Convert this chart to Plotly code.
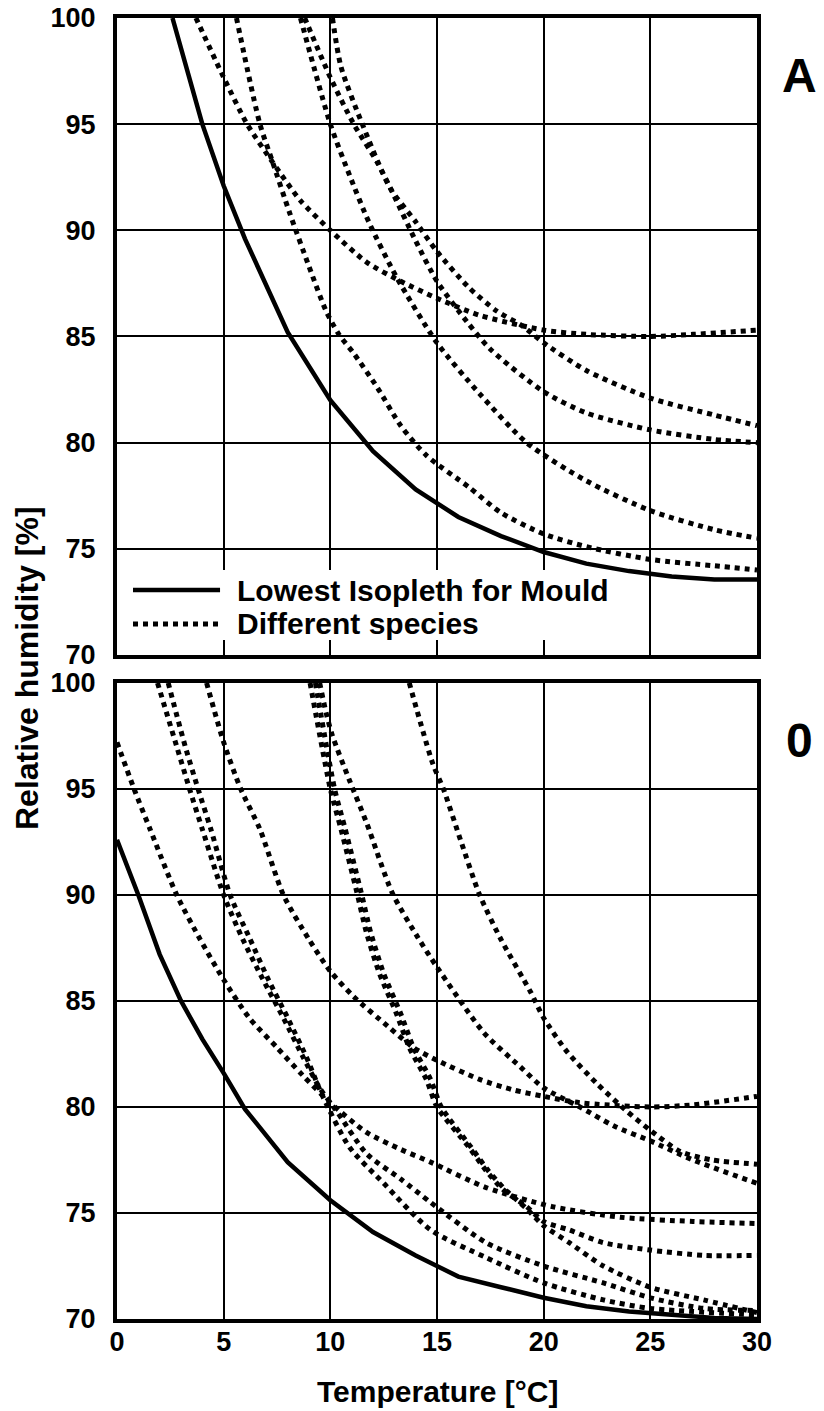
import plotly.graph_objects as go

# ---------------- Panel A (top) ----------------
temp_A_lowest = [2.6, 4, 5, 6, 8, 10, 12, 14, 16, 18, 20, 22, 24, 26, 28, 30]
rh_A_lowest = [100, 95, 92.1, 89.6, 85.2, 82.0, 79.6, 77.8, 76.5, 75.6, 74.85, 74.3, 73.95, 73.7, 73.55, 73.55]

temp_A_sp1 = [3.7, 5, 6.1, 7.3, 8.6, 10, 11.7, 13.3, 15, 17, 20, 22, 25, 27, 30]
rh_A_sp1 = [100, 97.2, 95, 93.2, 91.4, 90, 88.5, 87.6, 86.8, 86.0, 85.3, 85.1, 85.0, 85.1, 85.3]

temp_A_sp2 = [5.6, 6.7, 7.3, 8.1, 9.0, 9.8, 10.4, 11.1, 12.2, 13.3, 14.5, 16.5, 18, 20, 22, 25, 28, 30]
rh_A_sp2 = [100, 95, 93.2, 90.8, 88.3, 86.2, 85.1, 84.2, 82.6, 80.8, 79.4, 77.9, 76.7, 75.7, 75.1, 74.5, 74.2, 74.0]

temp_A_sp3 = [8.6, 10, 10.9, 11.8, 13.1, 15, 17, 19.2, 22, 25, 28, 30]
rh_A_sp3 = [100, 95, 92.6, 90.4, 87.8, 84.7, 82.3, 80.0, 78.2, 76.8, 75.9, 75.5]

temp_A_sp4 = [8.8, 10, 11.1, 12.2, 13, 14, 15, 16.4, 17.5, 20, 22, 25, 28, 30]
rh_A_sp4 = [100, 97.2, 95, 93.2, 91.6, 89.5, 87.6, 85.7, 84.4, 82.4, 81.4, 80.6, 80.15, 80.0]

temp_A_sp5 = [10.1, 10.5, 11.5, 12.8, 14, 15, 16.5, 17.8, 19, 20, 22, 25, 28, 30]
rh_A_sp5 = [100, 97.7, 95, 92, 90.4, 89.0, 87.3, 86.2, 85.5, 84.7, 83.4, 82.1, 81.3, 80.8]

# ---------------- Panel 0 (bottom) ----------------
temp_B_lowest = [0, 1, 2, 3, 4, 5, 6, 8, 10, 12, 14, 16, 18, 20, 22, 24, 26, 28, 30]
rh_B_lowest = [92.6, 90.0, 87.2, 85.0, 83.2, 81.6, 79.9, 77.4, 75.6, 74.1, 73.0, 72.0, 71.5, 71.0, 70.6, 70.35, 70.2, 70.05, 70.0]

temp_B_sp1 = [0, 0.8, 1.55, 2.8, 3.9, 5, 6.2, 7.5, 8.7, 10, 11.7, 13.3, 14.7, 17.3, 20.4, 23.6, 27, 30]
rh_B_sp1 = [97.2, 95, 93.1, 90, 87.9, 86, 84.2, 82.8, 81.5, 80.2, 78.8, 78, 77.4, 76.2, 75.3, 74.8, 74.6, 74.5]

temp_B_sp2 = [1.9, 2.8, 3.4, 4, 5, 5.9, 6.85, 7.8, 8.7, 9.5, 10.3, 11.7, 13.3, 14.7, 17.3, 20, 22.8, 25, 27.5, 30]
rh_B_sp2 = [100, 97, 95, 93.1, 90, 87.9, 86, 84.2, 82.4, 80.9, 79.8, 77.8, 76.6, 75.5, 73.6, 72.5, 71.7, 71, 70.5, 70.4]

temp_B_sp3 = [2.4, 3.2, 3.8, 4.4, 5.3, 6.2, 7.1, 8, 8.9, 9.6, 10.9, 12.5, 14.7, 17.3, 20, 22.8, 25, 30]
rh_B_sp3 = [100, 97, 95, 93.1, 90, 88, 86, 84.2, 82.3, 80.6, 78.1, 76.4, 74.2, 72.9, 71.7, 70.9, 70.5, 70.2]

temp_B_sp4 = [9.05, 10, 10.5, 11.25, 11.7, 12.3, 13.1, 13.7, 14.5, 15, 16.5, 17.3, 18.1, 19.2, 20, 21.2, 22.8, 25, 27.5, 30]
rh_B_sp4 = [100, 95, 93.1, 90.1, 88.2, 86.3, 84.4, 82.8, 81.3, 80, 78.1, 77, 76.1, 75.3, 74.6, 74.2, 73.6, 73.25, 73.0, 73.0]

temp_B_sp5 = [9.3, 10.2, 10.7, 11.45, 11.9, 12.5, 13.3, 13.9, 14.7, 15.2, 16.6, 17.4, 18.2, 19.2, 20, 21.2, 22.8, 25, 27.5, 30]
rh_B_sp5 = [100, 95, 93.1, 90.1, 88.2, 86.3, 84.4, 82.8, 81.3, 80, 78.1, 77, 76.1, 75.2, 74.4, 73.6, 72.5, 71.5, 70.9, 70.3]

temp_B_sp6 = [9.5, 9.8, 10.1, 10.9, 11.7, 12.9, 14.1, 15, 17.2, 18.9, 20, 21.7, 23.3, 25, 27, 30]
rh_B_sp6 = [100, 98.6, 97.5, 95.4, 93.4, 90.1, 88, 86.6, 83.5, 81.9, 80.9, 80, 79.1, 78.4, 77.5, 76.4]

temp_B_sp7 = [13.7, 14.8, 15.3, 16.1, 17, 18, 19.4, 20, 21.1, 22.5, 23.9, 25, 26.4, 27.9, 30]
rh_B_sp7 = [100, 96.2, 95, 92.6, 90, 87.9, 85.4, 84.2, 82.6, 81.1, 79.8, 78.9, 77.9, 77.5, 77.3]

temp_B_sp8 = [4.2, 5, 5.8, 6.7, 7.8, 9, 10, 11.1, 12.7, 13.9, 15, 17, 18.6, 20, 21.7, 25, 27, 30]
rh_B_sp8 = [100, 97.2, 95, 93.1, 90, 87.9, 86.4, 85.2, 83.8, 82.8, 82.2, 81.3, 80.8, 80.5, 80.2, 80.0, 80.1, 80.5]

x_ticks = [0, 5, 10, 15, 20, 25, 30]
y_ticks = [70, 75, 80, 85, 90, 95, 100]
legend_labels = ["Lowest Isopleth for Mould", "Different species"]
panel_labels = ["A", "0"]
x_title = "Temperature [°C]"
y_title = "Relative humidity [%]"

FONT = "Liberation Sans, Arial, Helvetica, sans-serif"
SOLID_W = 4.5
DOT_W = 5
DOT_DASH = "5px,5px"

fig = go.Figure()

def solid(x, y, xa, ya):
    fig.add_trace(go.Scatter(x=x, y=y, mode="lines", xaxis=xa, yaxis=ya,
                             line=dict(color="black", width=SOLID_W),
                             showlegend=False, hoverinfo="skip"))

def dotted(x, y, xa, ya):
    fig.add_trace(go.Scatter(x=x, y=y, mode="lines", xaxis=xa, yaxis=ya,
                             line=dict(color="black", width=DOT_W, dash=DOT_DASH,
                                       shape="spline", smoothing=0.7),
                             showlegend=False, hoverinfo="skip"))

for xs, ys in [(temp_A_sp1, rh_A_sp1), (temp_A_sp2, rh_A_sp2), (temp_A_sp3, rh_A_sp3),
               (temp_A_sp4, rh_A_sp4), (temp_A_sp5, rh_A_sp5)]:
    dotted(xs, ys, "x", "y")
solid(temp_A_lowest, rh_A_lowest, "x", "y")

for xs, ys in [(temp_B_sp1, rh_B_sp1), (temp_B_sp2, rh_B_sp2), (temp_B_sp3, rh_B_sp3),
               (temp_B_sp4, rh_B_sp4), (temp_B_sp5, rh_B_sp5), (temp_B_sp6, rh_B_sp6),
               (temp_B_sp7, rh_B_sp7), (temp_B_sp8, rh_B_sp8)]:
    dotted(xs, ys, "x2", "y2")
solid(temp_B_lowest, rh_B_lowest, "x2", "y2")

tickfont = dict(family=FONT, size=27, color="black", weight="bold")
axis_common = dict(showgrid=True, gridcolor="black", gridwidth=2, zeroline=False,
                   showline=True, linecolor="black", linewidth=4, mirror=True,
                   ticks="", tickfont=tickfont, automargin=False)

fig.update_layout(
    template="none",
    width=824, height=1411,
    margin=dict(l=117, r=67, t=18, b=92, pad=0, autoexpand=False),
    paper_bgcolor="white", plot_bgcolor="white",
    showlegend=False,
    xaxis=dict(domain=[0, 1], range=[0, 30], tickvals=x_ticks, showticklabels=False,
               anchor="y", **axis_common),
    yaxis=dict(domain=[0.5104, 1], range=[70, 100], tickvals=y_ticks, anchor="x",
               ticklabelstandoff=12, **axis_common),
    xaxis2=dict(domain=[0, 1], range=[0, 30], tickvals=x_ticks, anchor="y2",
                ticklabelstandoff=-4, **axis_common),
    yaxis2=dict(domain=[0, 0.4889], range=[70, 100], tickvals=y_ticks, anchor="x2",
                ticklabelstandoff=12, **axis_common),
)

# Legend box (drawn between gridlines and traces)
fig.add_shape(type="rect", xref="x", yref="y", x0=0.1, x1=23.6, y0=70.7, y1=74.0,
              fillcolor="white", line=dict(width=0), layer="between")
fig.add_shape(type="line", xref="x", yref="y", x0=0.75, x1=4.83, y0=73.06, y1=73.06,
              line=dict(color="black", width=SOLID_W), layer="above")
fig.add_shape(type="line", xref="x", yref="y", x0=0.75, x1=4.83, y0=71.46, y1=71.46,
              line=dict(color="black", width=DOT_W, dash=DOT_DASH), layer="above")
legfont = dict(family=FONT, size=30, color="black", weight="bold")
fig.add_annotation(x=5.55, y=73.06, xref="x", yref="y", text=legend_labels[0],
                   showarrow=False, xanchor="left", yanchor="middle", font=legfont)
fig.add_annotation(x=5.55, y=71.46, xref="x", yref="y", text=legend_labels[1],
                   showarrow=False, xanchor="left", yanchor="middle", font=legfont)

# Axis titles
titlefont = dict(family=FONT, size=30, color="black", weight="bold")
fig.add_annotation(x=0.5, y=-0.0561, xref="paper", yref="paper", text=x_title,
                   showarrow=False, xanchor="center", yanchor="middle", font=titlefont)
fig.add_annotation(x=-0.1406, y=0.5004, xref="paper", yref="paper", text=y_title,
                   showarrow=False, xanchor="center", yanchor="middle", textangle=-90,
                   font=dict(family=FONT, size=32, color="black", weight="bold"))

# Panel labels
plabfont = dict(family=FONT, size=48, color="black", weight="bold")
fig.add_annotation(x=1.067, y=0.956, xref="paper", yref="paper", text=panel_labels[0],
                   showarrow=False, xanchor="center", yanchor="middle", font=plabfont)
fig.add_annotation(x=1.067, y=0.445, xref="paper", yref="paper", text=panel_labels[1],
                   showarrow=False, xanchor="center", yanchor="middle", font=plabfont)

fig.write_html("out.html", config={"displayModeBar": False},
               post_script="document.body.style.margin='0';document.body.style.padding='0';")
